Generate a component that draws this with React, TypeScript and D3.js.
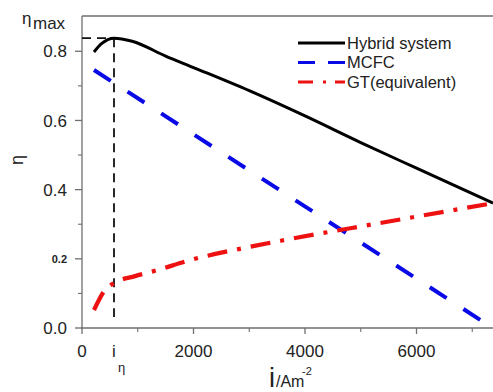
import React from "react";
import * as d3 from "d3";

// Current density (A/m^2) and efficiencies
const hybridI = [215, 350, 574, 900, 1500, 2000, 3000, 4000, 5000, 6000, 7372];
const hybridEta = [0.798, 0.822, 0.838, 0.829, 0.786, 0.753, 0.686, 0.613, 0.536, 0.462, 0.361];

const mcfcI = [215, 3534, 7175];
const mcfcEta = [0.746, 0.4, 0.02];

const gtI = [215, 413, 574, 951, 1255, 2027, 2924, 3587, 5400, 7372];
const gtEta = [0.052, 0.11, 0.13, 0.15, 0.163, 0.2, 0.232, 0.253, 0.305, 0.361];

const iEta = 574;
const etaMax = 0.838;

const xMajor = [0, 2000, 4000, 6000];
const xMinor = [1000, 3000, 5000, 7000];
const yMajor = [0, 0.2, 0.4, 0.6, 0.8];
const yMinor = [0.1, 0.3, 0.5, 0.7];

const legendItems = ["Hybrid system", "MCFC", "GT(equivalent)"];

const FONT = "'Liberation Sans', Arial, sans-serif";

export default function App() {
  const W = 493;
  const H = 392;
  const x = d3.scaleLinear().domain([0, 7372]).range([82, 493]);
  const y = d3.scaleLinear().domain([0, 0.902]).range([328, 16]);

  const line = d3
    .line<[number, number]>()
    .x((d) => x(d[0]))
    .y((d) => y(d[1]))
    .curve(d3.curveMonotoneX);

  const hybrid = line(hybridI.map((v, k) => [v, hybridEta[k]]));
  const mcfc = line(mcfcI.map((v, k) => [v, mcfcEta[k]]));
  const gt = line(gtI.map((v, k) => [v, gtEta[k]]));

  const axisColor = "#6f6f6f";
  const textColor = "#222";

  return (
    <svg
      width={W}
      height={H}
      style={{ position: "absolute", left: 0, top: 0, background: "#fff" }}
      fontFamily={FONT}
    >
      {/* frame */}
      <line x1={x(0)} x2={W} y1={y(0.902)} y2={y(0.902)} stroke={axisColor} strokeWidth={1.3} />
      <line x1={x(0)} x2={x(0)} y1={y(0.902)} y2={y(0) + 1} stroke={axisColor} strokeWidth={1.3} />
      <line x1={x(0) - 1} x2={W} y1={y(0)} y2={y(0)} stroke={axisColor} strokeWidth={1.3} />

      {/* y ticks */}
      {yMajor.map((v) => (
        <line key={"ym" + v} x1={x(0) - 7} x2={x(0)} y1={y(v)} y2={y(v)} stroke={axisColor} strokeWidth={1.3} />
      ))}
      {yMinor.map((v) => (
        <line key={"yn" + v} x1={x(0) - 4} x2={x(0)} y1={y(v)} y2={y(v)} stroke={axisColor} strokeWidth={1.1} />
      ))}
      {yMajor.map((v) => (
        <text
          key={"yl" + v}
          x={x(0) - 15}
          y={y(v)}
          dy="0.36em"
          textAnchor="end"
          fontSize={v === 0.2 ? 11 : 17}
          fontWeight={v === 0.2 ? "bold" : "normal"}
          fill={textColor}
        >
          {v.toFixed(1)}
        </text>
      ))}
      {/* x ticks */}
      {xMajor.map((v) => (
        <line key={"xm" + v} x1={x(v)} x2={x(v)} y1={y(0)} y2={y(0) + 6} stroke={axisColor} strokeWidth={1.3} />
      ))}
      {xMinor.map((v) => (
        <line key={"xn" + v} x1={x(v)} x2={x(v)} y1={y(0)} y2={y(0) + 4} stroke={axisColor} strokeWidth={1.1} />
      ))}
      {xMajor.map((v) => (
        <text key={"xl" + v} x={x(v)} y={357} textAnchor="middle" fontSize={17} fill={textColor}>
          {v}
        </text>
      ))}
      {/* i_eta label on the x axis */}
      <text x={x(iEta) - 2} y={357} fontSize={17} fill={textColor}>
        i
      </text>
      <text x={x(iEta) + 4} y={372} fontSize={13} fill={textColor}>
        η
      </text>

      {/* axis titles */}
      <text x={269} y={387} fontSize={27} fill={textColor}>
        i
      </text>
      <text x={276} y={387} fontSize={16} fill={textColor}>
        /Am
      </text>
      <text x={302} y={375} fontSize={11} fill={textColor}>
        -2
      </text>
      <text
        transform="translate(23,160) rotate(-90)"
        textAnchor="middle"
        fontSize={18}
        fill={textColor}
      >
        η
      </text>
      <text x={22} y={24} fontSize={17} fill={textColor}>
        η
      </text>
      <text x={33} y={29} fontSize={17} fill={textColor}>
        max
      </text>

      {/* guides at the efficiency maximum */}
      <line
        x1={x(iEta)}
        x2={x(iEta)}
        y1={y(etaMax)}
        y2={y(0.032)}
        stroke="#111"
        strokeWidth={1.8}
        strokeDasharray="9 6"
      />
      <line
        x1={x(0)}
        x2={x(iEta)}
        y1={y(etaMax)}
        y2={y(etaMax)}
        stroke="#111"
        strokeWidth={1.8}
        strokeDasharray="9 6"
      />

      {/* curves */}
      <path d={mcfc ?? ""} fill="none" stroke="#0a0ae6" strokeWidth={4} strokeDasharray="20 20" />
      <path
        d={gt ?? ""}
        fill="none"
        stroke="#ee1111"
        strokeWidth={4.2}
        strokeDasharray="20 10 4 10"
      />
      <path d={hybrid ?? ""} fill="none" stroke="#000" strokeWidth={3} />

      {/* legend */}
      {legendItems.map((name, k) => {
        const ly = 43 + k * 19.5;
        const styles = [
          { stroke: "#000", w: 3, dash: undefined },
          { stroke: "#0a0ae6", w: 3, dash: "17 13" },
          { stroke: "#ee1111", w: 3, dash: "15 10 3 9" },
        ][k];
        return (
          <g key={name}>
            <line
              x1={298}
              x2={345}
              y1={ly}
              y2={ly}
              stroke={styles.stroke}
              strokeWidth={styles.w}
              strokeDasharray={styles.dash}
            />
            <text x={347} y={ly} dy="0.36em" fontSize={16.5} fill={textColor}>
              {name}
            </text>
          </g>
        );
      })}
    </svg>
  );
}
